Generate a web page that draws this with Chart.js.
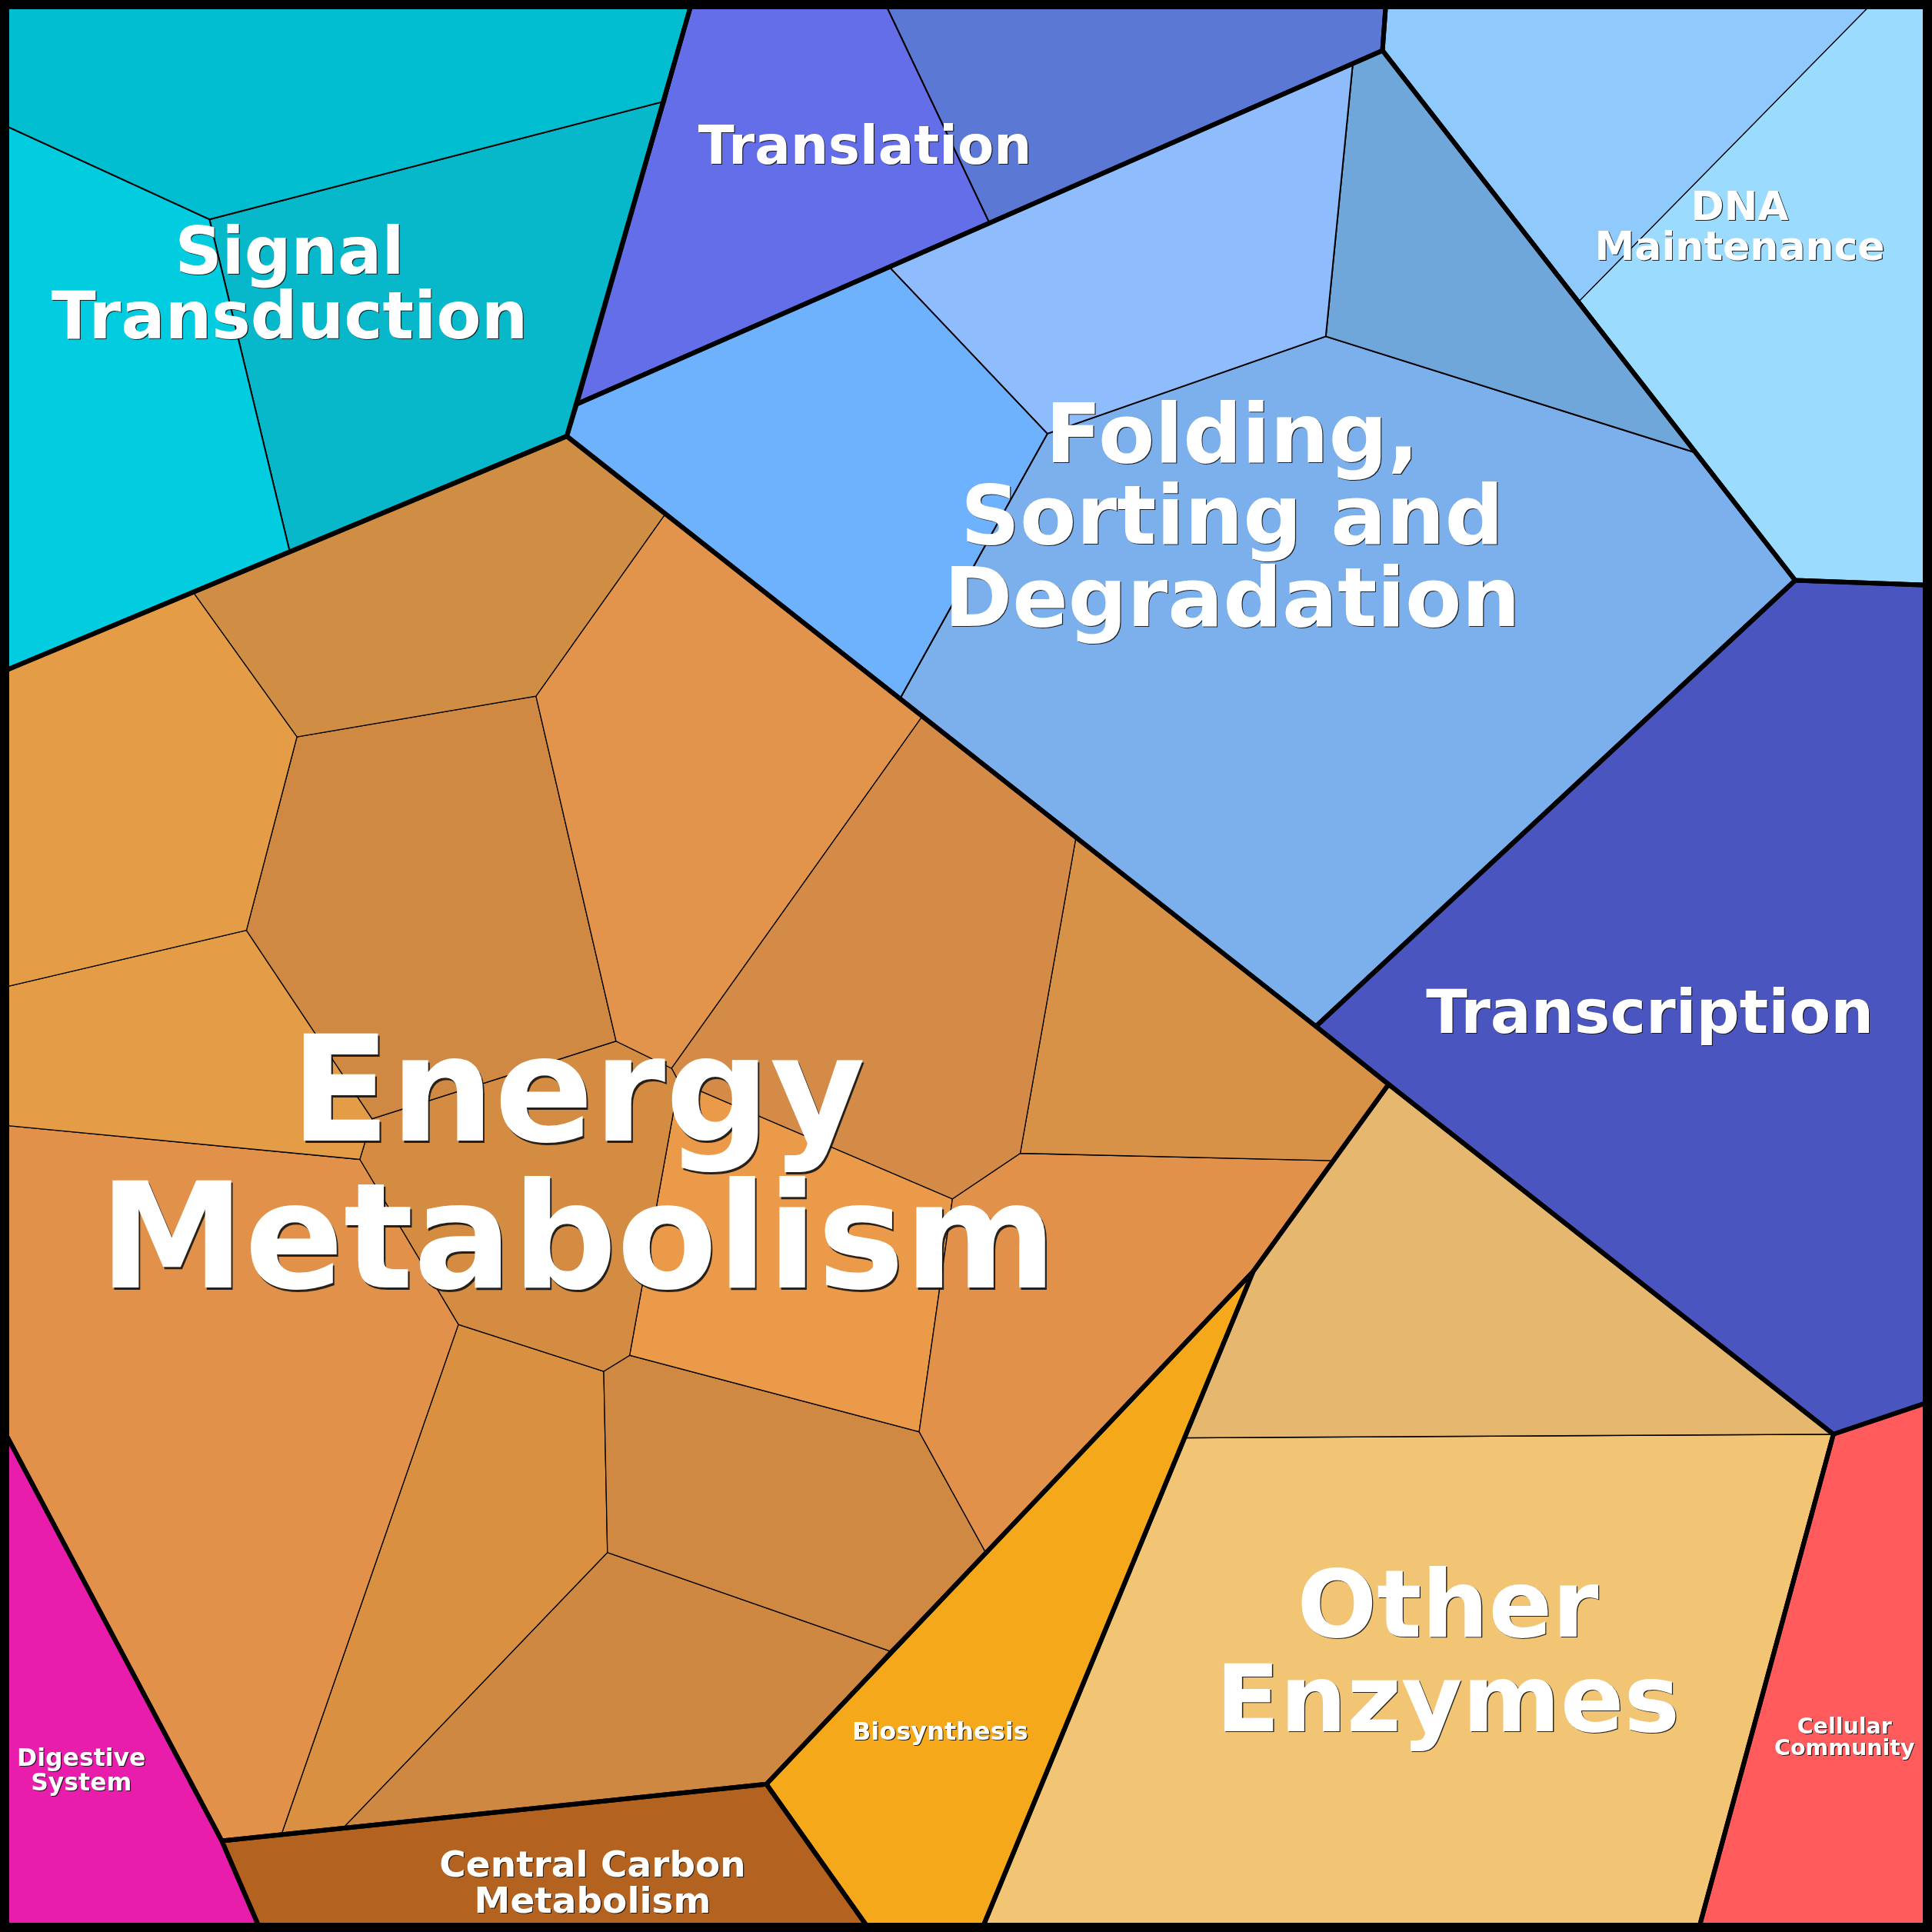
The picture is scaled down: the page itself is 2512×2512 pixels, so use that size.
<!DOCTYPE html>
<html>
<head>
<meta charset="utf-8">
<script src="https://cdn.jsdelivr.net/npm/chart.js@4.4.1/dist/chart.umd.min.js"></script>
<style>
  html, body { margin: 0; padding: 0; background: #fff; }
  #wrap { width: 2512px; height: 2512px; }
</style>
</head>
<body>
<div id="wrap"><canvas id="voronoiChart" width="2512" height="2512"></canvas></div>
<script>
// 1568 x 1568 units, same as the picture
const AXIS_MAX = 1568;

// top level groups (outline of each group)
const groupNames = ['Signal Transduction', 'Translation', 'Folding, Sorting and Degradation', 'DNA Maintenance',
  'Transcription', 'Energy Metabolism', 'Other Enzymes', 'Cellular Community', 'Biosynthesis',
  'Central Carbon Metabolism', 'Digestive System'];

const groupOutlines = [
  [[0,0],[562,0],[460,354],[0,546]],
  [[562,0],[1125,0],[1122,41],[468,328]],
  [[468,328],[1122,41],[1457,471],[1068,833],[460,354]],
  [[1125,0],[1568,0],[1568,475],[1457,471],[1122,41]],
  [[1457,471],[1568,475],[1568,1137],[1488,1164],[1127,880],[1068,833]],
  [[0,546],[460,354],[1068,833],[1127,880],[1017,1032],[622,1448],[180,1494],[0,1155]],
  [[1127,880],[1488,1164],[1378,1568],[796,1568],[1017,1032]],
  [[1488,1164],[1568,1137],[1568,1568],[1378,1568]],
  [[1017,1032],[796,1568],[707,1568],[622,1448]],
  [[180,1494],[622,1448],[707,1568],[212,1568]],
  [[0,1155],[180,1494],[212,1568],[0,1568]]
];

// leaf cells: which group, and the polygon
const cellGroup = [0,0,0, 1,1, 2,2,2,2, 3,3, 4, 5,5,5,5,5,5,5,5,5,5,5,5,5,5, 6,6, 7, 8, 9, 10];

const cellPolygons = [
  // Signal Transduction
  [[0,0],[562,0],[540,82],[170,178],[0,100]],
  [[0,100],[170,178],[235,447],[0,546]],
  [[170,178],[540,82],[460,354],[235,447]],
  // Translation
  [[562,0],[717,0],[803,181],[468,328]],
  [[717,0],[1125,0],[1122,41],[803,181]],
  // Folding, Sorting and Degradation
  [[468,328],[722,217],[850,352],[731,566],[460,354]],
  [[722,217],[1098,51],[1076,273],[850,352]],
  [[1098,51],[1122,41],[1378,368],[1076,273]],
  [[850,352],[1076,273],[1378,368],[1457,471],[1068,833],[731,566]],
  // DNA Maintenance
  [[1125,0],[1522,0],[1282,244],[1122,41]],
  [[1522,0],[1568,0],[1568,475],[1457,471],[1282,244]],
  // Transcription
  [[1457,471],[1568,475],[1568,1137],[1488,1164],[1127,880],[1068,833]],
  // Energy Metabolism
  [[0,546],[157,481],[241,598],[200,755],[0,802]],
  [[157,481],[460,354],[540,417],[435,565],[241,598]],
  [[540,417],[748,582],[545,867],[500,845],[435,565]],
  [[241,598],[435,565],[500,845],[302,908],[200,755]],
  [[0,802],[200,755],[302,908],[292,941],[0,913]],
  [[0,913],[292,941],[372,1075],[228,1490],[180,1494],[0,1155]],
  [[302,908],[500,845],[545,867],[551,878],[511,1100],[490,1113],[372,1075],[292,941]],
  [[748,582],[873,681],[828,936],[773,973],[551,878],[545,867]],
  [[873,681],[1068,833],[1127,880],[1082,942],[828,936]],
  [[828,936],[1082,942],[1017,1032],[800,1260],[746,1162],[773,973]],
  [[551,878],[773,973],[746,1162],[511,1100]],
  [[511,1100],[746,1162],[800,1260],[722,1340],[493,1260],[490,1113]],
  [[372,1075],[490,1113],[493,1260],[278,1484],[228,1490]],
  [[493,1260],[722,1340],[622,1448],[278,1484]],
  // Other Enzymes
  [[1127,880],[1488,1164],[962,1167],[1017,1032]],
  [[962,1167],[1488,1164],[1378,1568],[796,1568]],
  // Cellular Community
  [[1488,1164],[1568,1137],[1568,1568],[1378,1568]],
  // Biosynthesis
  [[1017,1032],[796,1568],[707,1568],[622,1448]],
  // Central Carbon Metabolism
  [[180,1494],[622,1448],[707,1568],[212,1568]],
  // Digestive System
  [[0,1155],[180,1494],[212,1568],[0,1568]]
];

// colours, one per cell
const cellColors = [
  '#00BDD0', '#02CCE0', '#07B8CB',
  '#636EE8', '#5B78D5',
  '#6EB1FC', '#8FBCFD', '#6FA7DB', '#7BB0EC',
  '#90C9FC', '#9ADBFE',
  '#4A55C0',
  '#E49C47', '#D08E45', '#E2934C', '#CF8943', '#E59C47', '#E2914A', '#D48B42',
  '#D48B47', '#D89248', '#E2914A', '#EA9A48', '#D08943', '#D99141', '#CF8842',
  '#E6B76F', '#F2C575',
  '#FF5A5C',
  '#F4A81A',
  '#B3621F',
  '#E91DAB'
];

// inner line width for each group
const innerLine = [2, 2, 2, 1.3, 2, 1.3, 1.5, 2, 2, 2, 2];

// labels (anchor = centre x, first baseline, in the same units)
const labelLines = [
  ['Signal', 'Transduction'],
  ['Translation'],
  ['Folding,', 'Sorting and', 'Degradation'],
  ['DNA', 'Maintenance'],
  ['Transcription'],
  ['Energy', 'Metabolism'],
  ['Other', 'Enzymes'],
  ['Cellular', 'Community'],
  ['Biosynthesis'],
  ['Central Carbon', 'Metabolism'],
  ['Digestive', 'System']
];
const labelAnchor = [[235,222],[702,133],[1000,375],[1412,178.5],[1339,838],[469,926],[1175,1328],[1497,1407],[763,1412],[481,1523],[66,1433]];
const labelSize = [85, 69, 107, 52, 78.5, 190, 122, 28.5, 32, 47, 31.5];
const labelGap = [84, 67, 106.5, 52, 77, 191, 123, 28, 32, 47, 32];

function toPoints(poly) {
  var pts = poly.map(p => ({ x: p[0], y: p[1] }));
  pts.push({ x: poly[0][0], y: poly[0][1] });
  return pts;
}

var datasets = [];

cellPolygons.forEach((poly, i) => {
  datasets.push({
    label: groupNames[cellGroup[i]],
    data: toPoints(poly),
    backgroundColor: cellColors[i],
    borderColor: '#000',
    borderWidth: innerLine[cellGroup[i]],
    fill: 'shape',
    pointRadius: 0,
    tension: 0,
    order: 3
  });
});

groupOutlines.forEach((poly, i) => {
  datasets.push({
    label: groupNames[i] + ' outline',
    data: toPoints(poly),
    borderColor: '#000',
    borderWidth: 6,
    borderJoinStyle: 'round',
    fill: false,
    pointRadius: 0,
    tension: 0,
    order: 2
  });
});

// frame round the whole picture
datasets.push({
  label: 'frame',
  data: toPoints([[0,0],[AXIS_MAX,0],[AXIS_MAX,AXIS_MAX],[0,AXIS_MAX]]),
  borderColor: '#000',
  borderWidth: 24,
  fill: false,
  pointRadius: 0,
  order: 1
});

const labelPlugin = {
  id: 'cellLabels',
  afterDatasetsDraw(chart) {
    var ctx = chart.ctx;
    var xs = chart.scales.x, ys = chart.scales.y;
    ctx.save();
    ctx.textAlign = 'center';
    ctx.textBaseline = 'alphabetic';
    labelLines.forEach((lines, i) => {
      var size = labelSize[i];
      var cx = xs.getPixelForValue(labelAnchor[i][0]);
      var by = ys.getPixelForValue(labelAnchor[i][1]);
      ctx.font = 'bold ' + size + 'px "DejaVu Sans"';
      var off = Math.max(1.2, size / 90);
      lines.forEach((t, k) => {
        var y = by + k * labelGap[i];
        ctx.fillStyle = 'rgba(20,20,20,0.9)';
        ctx.fillText(t, cx + off, y + off);
        ctx.fillStyle = '#fff';
        ctx.fillText(t, cx, y);
      });
    });
    ctx.restore();
  }
};

var ctx = document.getElementById('voronoiChart').getContext('2d');
var makeChart = (ctx, config) => new Chart(ctx, config);

makeChart(ctx, {
  type: 'line',
  data: { datasets: datasets },
  options: {
    responsive: false,
    animation: false,
    devicePixelRatio: 1,
    layout: { padding: 0 },
    plugins: { legend: { display: false }, tooltip: { enabled: false } },
    scales: {
      x: { type: 'linear', min: 0, max: AXIS_MAX, display: false },
      y: { type: 'linear', min: 0, max: AXIS_MAX, reverse: true, display: false }
    }
  },
  plugins: [labelPlugin]
});
</script>
</body>
</html>
